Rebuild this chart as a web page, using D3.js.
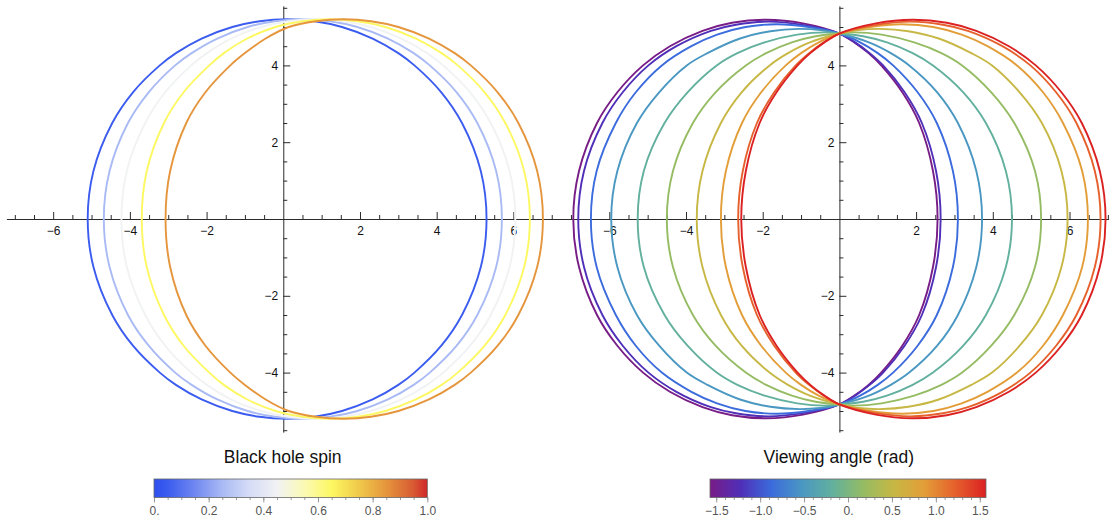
<!DOCTYPE html>
<html>
<head>
<meta charset="utf-8">
<script src="https://cdn.jsdelivr.net/npm/d3@7"></script>
<style>
  body { margin: 0; background: #fff; }
  text { font-family: "Liberation Sans", Arial, sans-serif; }
</style>
</head>
<body>
<svg id="chart" width="1115" height="527"></svg>
<script>
// ---- Left panel: shadow outlines for several spins (upper halves, left to right) ----
const spinValues = [0.05, 0.25, 0.45, 0.65, 0.85];
const spinCurvesX = [
  [-5.10, -4.95, -4.46, -3.92, -3.22, -2.80, -2.13, -1.33, -0.62, 0.10, 0.82, 1.53, 2.33, 3.00, 3.42, 4.12, 4.66, 5.15, 5.30],
  [-4.68, -4.53, -4.05, -3.51, -2.82, -2.39, -1.72, -0.93, -0.22, 0.50, 1.22, 1.93, 2.73, 3.40, 3.82, 4.52, 5.06, 5.55, 5.70],
  [-4.22, -4.08, -3.60, -3.08, -2.40, -1.99, -1.36, -0.58, 0.13, 0.85, 1.57, 2.28, 3.08, 3.75, 4.17, 4.87, 5.41, 5.90, 6.05],
  [-3.69, -3.56, -3.11, -2.60, -1.93, -1.55, -0.94, -0.20, 0.51, 1.23, 1.95, 2.66, 3.46, 4.13, 4.55, 5.25, 5.79, 6.28, 6.43],
  [-3.07, -2.95, -2.53, -2.03, -1.38, -1.00, -0.46, 0.14, 0.85, 1.57, 2.29, 3.00, 3.80, 4.47, 4.89, 5.59, 6.13, 6.62, 6.77]
];
const spinCurvesY = [
  [0, 1.25, 2.5, 3.3, 4.0, 4.32, 4.7, 5.0, 5.15, 5.2, 5.15, 5.0, 4.7, 4.32, 4.0, 3.3, 2.5, 1.25, 0],
  [0, 1.25, 2.5, 3.3, 4.0, 4.32, 4.7, 5.0, 5.15, 5.2, 5.15, 5.0, 4.7, 4.32, 4.0, 3.3, 2.5, 1.25, 0],
  [0, 1.25, 2.5, 3.3, 4.0, 4.32, 4.7, 5.0, 5.15, 5.2, 5.15, 5.0, 4.7, 4.32, 4.0, 3.3, 2.5, 1.25, 0],
  [0, 1.25, 2.5, 3.3, 4.0, 4.32, 4.7, 5.0, 5.15, 5.2, 5.15, 5.0, 4.7, 4.32, 4.0, 3.3, 2.5, 1.25, 0],
  [0, 1.25, 2.5, 3.3, 4.0, 4.32, 4.7, 5.0, 5.15, 5.2, 5.15, 5.0, 4.7, 4.32, 4.0, 3.3, 2.5, 1.25, 0]
];

// ---- Right panel: outlines for several viewing angles (upper halves, left to right) ----
const angleValues = [-1.571, -1.222, -0.873, -0.524, -0.175, 0.175, 0.524, 0.873, 1.222, 1.571];
const angleCurvesX = [
  [-6.94, -6.79, -6.32, -5.79, -5.12, -4.42, -3.57, -2.80, -1.91, -0.95, 0.00, 0.39, 0.76, 1.09, 1.64, 2.08, 2.44, 2.56],
  [-6.81, -6.66, -6.18, -5.65, -4.98, -4.25, -3.35, -2.70, -1.85, -0.92, 0.00, 0.41, 0.79, 1.14, 1.70, 2.15, 2.52, 2.64],
  [-6.48, -6.33, -5.83, -5.31, -4.63, -3.86, -3.19, -2.45, -1.63, -0.80, 0.00, 0.54, 1.00, 1.40, 2.04, 2.54, 2.96, 3.09],
  [-5.95, -5.79, -5.28, -4.70, -3.98, -3.44, -2.59, -1.80, -1.05, -0.50, 0.00, 0.77, 1.34, 1.82, 2.55, 3.09, 3.57, 3.72],
  [-5.26, -5.10, -4.56, -3.96, -3.20, -2.66, -1.95, -1.10, -0.37, 0.00, 0.62, 1.24, 1.91, 2.44, 3.23, 3.82, 4.34, 4.50],
  [-4.50, -4.34, -3.82, -3.23, -2.44, -1.91, -1.24, -0.62, 0.00, 0.37, 1.10, 1.95, 2.66, 3.20, 3.96, 4.56, 5.10, 5.26],
  [-3.72, -3.57, -3.09, -2.55, -1.82, -1.34, -0.77, 0.00, 0.50, 1.05, 1.80, 2.59, 3.44, 3.98, 4.70, 5.28, 5.79, 5.95],
  [-3.09, -2.96, -2.54, -2.04, -1.40, -1.00, -0.54, 0.00, 0.80, 1.63, 2.45, 3.19, 3.86, 4.63, 5.31, 5.83, 6.33, 6.48],
  [-2.64, -2.52, -2.15, -1.70, -1.14, -0.79, -0.41, 0.00, 0.92, 1.85, 2.70, 3.35, 4.25, 4.98, 5.65, 6.18, 6.66, 6.81],
  [-2.56, -2.44, -2.08, -1.64, -1.09, -0.76, -0.39, 0.00, 0.95, 1.91, 2.80, 3.57, 4.42, 5.12, 5.79, 6.32, 6.79, 6.94]
];
const angleCurvesY = [
  [0, 1.25, 2.5, 3.3, 4.0, 4.5, 4.9, 5.11, 5.19, 5.095, 4.83, 4.6, 4.32, 4.0, 3.3, 2.5, 1.25, 0],
  [0, 1.25, 2.5, 3.3, 4.0, 4.5, 4.9, 5.06, 5.14, 5.05, 4.83, 4.6, 4.32, 4.0, 3.3, 2.5, 1.25, 0],
  [0, 1.25, 2.5, 3.3, 4.0, 4.5, 4.8, 5.0, 5.07, 5.0, 4.83, 4.6, 4.32, 4.0, 3.3, 2.5, 1.25, 0],
  [0, 1.25, 2.5, 3.3, 4.0, 4.32, 4.7, 4.89, 4.95, 4.92, 4.83, 4.6, 4.32, 4.0, 3.3, 2.5, 1.25, 0],
  [0, 1.25, 2.5, 3.3, 4.0, 4.32, 4.6, 4.8, 4.86, 4.83, 4.76, 4.6, 4.32, 4.0, 3.3, 2.5, 1.25, 0],
  [0, 1.25, 2.5, 3.3, 4.0, 4.32, 4.6, 4.76, 4.83, 4.86, 4.8, 4.6, 4.32, 4.0, 3.3, 2.5, 1.25, 0],
  [0, 1.25, 2.5, 3.3, 4.0, 4.32, 4.6, 4.83, 4.92, 4.95, 4.89, 4.7, 4.32, 4.0, 3.3, 2.5, 1.25, 0],
  [0, 1.25, 2.5, 3.3, 4.0, 4.32, 4.6, 4.83, 5.0, 5.07, 5.0, 4.8, 4.5, 4.0, 3.3, 2.5, 1.25, 0],
  [0, 1.25, 2.5, 3.3, 4.0, 4.32, 4.6, 4.83, 5.05, 5.14, 5.06, 4.9, 4.5, 4.0, 3.3, 2.5, 1.25, 0],
  [0, 1.25, 2.5, 3.3, 4.0, 4.32, 4.6, 4.83, 5.095, 5.19, 5.11, 4.9, 4.5, 4.0, 3.3, 2.5, 1.25, 0]
];

// ---- Axes and colour bar ticks ----
const axisXTicks = [-6, -4, -2, 2, 4, 6];
const axisYTicks = [-4, -2, 2, 4];
const spinBarTicks = [0, 0.2, 0.4, 0.6, 0.8, 1.0];
const spinBarLabels = ["0.", "0.2", "0.4", "0.6", "0.8", "1.0"];
const angleBarTicks = [-1.5, -1.0, -0.5, 0, 0.5, 1.0, 1.5];
const angleBarLabels = ["\u22121.5", "\u22121.0", "\u22120.5", "0.", "0.5", "1.0", "1.5"];

// Colour gradients (temperature-style and rainbow)
const tempStops = [
  [0.00, "#2d4fee"], [0.05, "#3b5cef"], [0.15, "#7088f1"], [0.25, "#a9baf4"],
  [0.35, "#d5dcf6"], [0.45, "#f1f2f4"], [0.55, "#fbfab4"], [0.65, "#fdf862"],
  [0.75, "#f0c94a"], [0.85, "#e5953c"], [0.95, "#d85a32"], [1.00, "#d0262a"]
];
const rainbowStops = [
  [0.000, "#781c86"], [0.111, "#4f2fb8"], [0.222, "#3b6bdc"], [0.333, "#4a97c2"],
  [0.444, "#62b09d"], [0.556, "#95bc63"], [0.667, "#c7b744"], [0.778, "#e39d38"],
  [0.889, "#e5602c"], [1.000, "#db2122"]
];
const tempScale = d3.scaleLinear().domain(tempStops.map(d => d[0])).range(tempStops.map(d => d[1])).interpolate(d3.interpolateRgb);
const rainbowScale = d3.scaleLinear().domain(rainbowStops.map(d => d[0])).range(rainbowStops.map(d => d[1])).interpolate(d3.interpolateRgb);
const HALF_PI = Math.PI / 2;
const angleToUnit = d3.scaleLinear().domain([-HALF_PI, HALF_PI]).range([0, 1]);

const svg = d3.select("#chart");
const axisColor = "#2b2b2b";
const UNIT = 38.35;

function drawPanel(left, xDomain, xsList, ysList, colors) {
  const x = d3.scaleLinear().domain(xDomain).range([left, left + (xDomain[1] - xDomain[0]) * UNIT]);
  const y = d3.scaleLinear().domain([-5.55, 5.55]).range([219 + 5.55 * 38.4, 219 - 5.55 * 38.4]);
  const g = svg.append("g");

  // minor ticks every 0.5
  const minorX = d3.range(-14, 15).map(i => i / 2)
    .filter(v => v !== 0 && v % 2 !== 0 && v >= xDomain[0] && v <= xDomain[1]);
  const minorY = d3.range(-11, 12).map(i => i / 2).filter(v => v !== 0 && v % 2 !== 0);

  g.append("g").attr("transform", `translate(0,${y(0)})`)
    .call(d3.axisBottom(x).tickValues(minorX).tickSizeInner(-4).tickSizeOuter(0).tickFormat(""))
    .call(s => s.select(".domain").remove());
  g.append("g").attr("transform", `translate(0,${y(0)})`)
    .call(d3.axisBottom(x).tickValues(axisXTicks).tickSizeInner(-7).tickSizeOuter(0).tickPadding(7.5)
      .tickFormat(d3.format("d")));
  g.append("g").attr("transform", `translate(${x(0)},0)`)
    .call(d3.axisLeft(y).tickValues(minorY).tickSizeInner(-4).tickSizeOuter(0).tickFormat(""))
    .call(s => s.select(".domain").remove());
  g.append("g").attr("transform", `translate(${x(0)},0)`)
    .call(d3.axisLeft(y).tickValues(axisYTicks).tickSizeInner(-7).tickSizeOuter(0).tickPadding(5)
      .tickFormat(d3.format("d")));

  g.selectAll(".domain").attr("stroke", axisColor);
  g.selectAll(".tick line").attr("stroke", axisColor);
  g.selectAll(".tick text").attr("fill", "#111").style("font-size", "12px")
    .style("font-family", '"Liberation Sans", Arial, sans-serif');

  const line = d3.line().x(d => x(d[0])).y(d => y(d[1])).curve(d3.curveCatmullRomClosed.alpha(0.5));
  xsList.forEach((xs, i) => {
    const upper = xs.map((v, j) => [v, ysList[i][j]]);
    const lower = upper.slice(1, -1).reverse().map(p => [p[0], -p[1]]);
    g.append("path").attr("d", line(upper.concat(lower)))
      .attr("fill", "none").attr("stroke", colors[i]).attr("stroke-width", 1.9)
      .attr("stroke-linejoin", "round");
  });
}

drawPanel(6.4, [-7.22, 7.19], spinCurvesX, spinCurvesY, spinValues.map(a => tempScale(a)));
drawPanel(556, [-7.39, 7.02], angleCurvesX, angleCurvesY, angleValues.map(t => rainbowScale(angleToUnit(t))));

// ---- Colour bars ----
const defs = svg.append("defs");
function gradient(id, stops) {
  const lg = defs.append("linearGradient").attr("id", id).attr("x1", "0%").attr("x2", "100%");
  stops.forEach(s => lg.append("stop").attr("offset", (s[0] * 100) + "%").attr("stop-color", s[1]));
}
gradient("tempGrad", tempStops);
gradient("rainGrad", rainbowStops);

function colorBar(x0, x1, titleX, domain, ticks, labels, minorStep, gradId, title) {
  const s = d3.scaleLinear().domain(domain).range([x0, x1]);
  const g = svg.append("g");
  g.append("text").attr("x", titleX).attr("y", 463).attr("text-anchor", "middle")
    .style("font-size", "17.5px").attr("fill", "#111").text(title);
  const minor = d3.range(Math.ceil(domain[0] / minorStep - 1e-9), Math.floor(domain[1] / minorStep + 1e-9) + 1)
    .map(i => i * minorStep);
  g.append("g").attr("transform", "translate(0,497.5)")
    .call(d3.axisBottom(s).tickValues(minor).tickSizeInner(2.5).tickSizeOuter(0).tickFormat(""))
    .call(a => a.select(".domain").remove())
    .selectAll("line").attr("stroke", "#9a9a9a");
  g.append("g").attr("transform", "translate(0,497.5)")
    .call(d3.axisBottom(s).tickValues(ticks).tickSizeInner(5).tickSizeOuter(0).tickPadding(4)
      .tickFormat((d, i) => labels[i]))
    .call(a => a.select(".domain").remove())
    .call(a => a.selectAll("line").attr("stroke", "#9a9a9a"))
    .call(a => a.selectAll("text").attr("fill", "#555").style("font-size", "12px")
      .style("font-family", '"Liberation Sans", Arial, sans-serif'));
  g.append("rect").attr("x", x0).attr("y", 479).attr("width", x1 - x0).attr("height", 18.5)
    .attr("fill", `url(#${gradId})`).attr("stroke", "#666").attr("stroke-width", 0.8);
}
colorBar(154, 427.3, 282.7, [0, 1], spinBarTicks, spinBarLabels, 0.05, "tempGrad", "Black hole spin");
colorBar(710, 986, 838.8, [-HALF_PI, HALF_PI], angleBarTicks, angleBarLabels, 0.1, "rainGrad", "Viewing angle (rad)");
</script>
</body>
</html>
